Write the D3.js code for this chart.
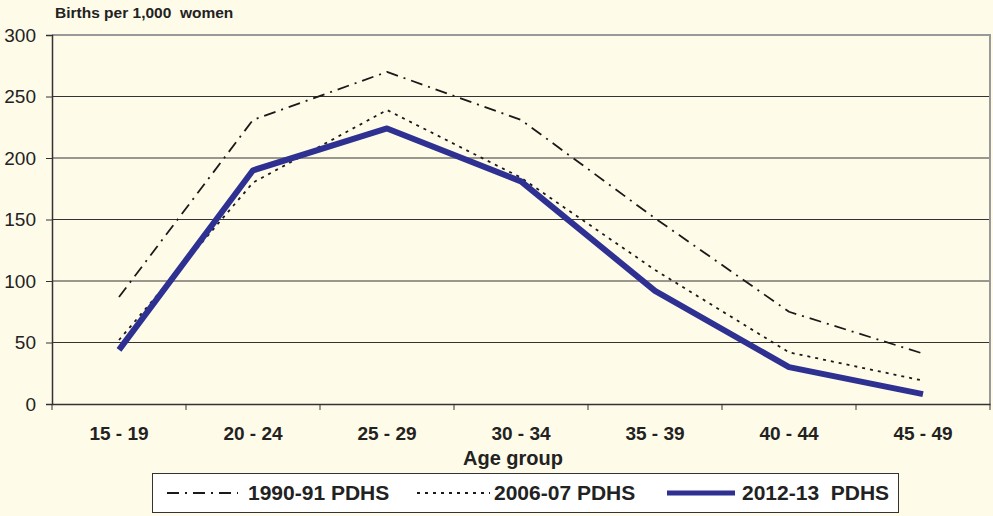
<!DOCTYPE html>
<html><head><meta charset="utf-8">
<script src="https://cdn.jsdelivr.net/npm/d3@7"></script>
<style>
html,body{margin:0;padding:0;background:#fffbe9;}
svg{display:block;font-family:"Liberation Sans",Arial,sans-serif;}
</style></head>
<body><svg id="c" width="993" height="516"></svg>
<script>
const categories = ["15 - 19","20 - 24","25 - 29","30 - 34","35 - 39","40 - 44","45 - 49"];
const s1990 = [87, 231, 270, 231, 151, 75, 41];
const s2006 = [52, 180, 239, 184, 109, 42, 19];
const s2012 = [44, 190, 224, 181, 92, 30, 8];
const yTicks = [0, 50, 100, 150, 200, 250, 300];
const seriesNames = ["1990-91 PDHS", "2006-07 PDHS", "2012-13  PDHS"];

const svg = d3.select("#c");
const L = 52, R = 990, T = 35, B = 404;
const x = d3.scaleBand().domain(categories).range([L, R]);
const y = d3.scaleLinear().domain([0, 300]).range([B, T]);

// gridlines
svg.append("g").selectAll("line").data(yTicks.filter(d => d > 0 && d < 300)).join("line")
  .attr("x1", L).attr("x2", R).attr("y1", d => y(d)).attr("y2", d => y(d))
  .attr("stroke", "#333").attr("stroke-width", 1);
// frame top/right
svg.append("line").attr("x1", L).attr("x2", R).attr("y1", y(300)).attr("y2", y(300)).attr("stroke", "#999").attr("stroke-width", 2);
svg.append("line").attr("x1", R).attr("x2", R).attr("y1", T - 1).attr("y2", B).attr("stroke", "#999").attr("stroke-width", 2);

// y axis
const yAxis = svg.append("g").attr("transform", `translate(${L},0)`)
  .call(d3.axisLeft(y).tickValues(yTicks).tickSize(6).tickPadding(10));
yAxis.select(".domain").attr("stroke", "#333").attr("stroke-width", 1.5);
yAxis.selectAll(".tick line").attr("stroke", "#333");
yAxis.selectAll("text").attr("font-size", 19).attr("fill", "#222").attr("font-family", "Liberation Sans, Arial, sans-serif");

// x axis
const xAxis = svg.append("g").attr("transform", `translate(0,${B})`)
  .call(d3.axisBottom(x).tickSize(0).tickPadding(23));
xAxis.select(".domain").attr("stroke", "#333").attr("stroke-width", 1.5);
xAxis.selectAll("text").attr("font-size", 19).attr("font-weight", "bold").attr("fill", "#222").attr("font-family", "Liberation Sans, Arial, sans-serif");
// boundary ticks
const bounds = categories.map(c => x(c)).concat([R]);
svg.append("g").selectAll("line").data(bounds).join("line")
  .attr("x1", d => d).attr("x2", d => d).attr("y1", B).attr("y2", B + 6)
  .attr("stroke", "#333").attr("stroke-width", 1);

// titles
svg.append("text").attr("x", 55).attr("y", 18).attr("font-size", 15.5).attr("font-weight", "bold").attr("fill", "#222")
  .attr("xml:space", "preserve").text("Births per 1,000  women");
svg.append("text").attr("x", 513).attr("y", 465).attr("text-anchor", "middle").attr("font-size", 20)
  .attr("font-weight", "bold").attr("fill", "#222").text("Age group");

const cx = c => x(c) + x.bandwidth() / 2;
const line = d3.line().x((d, i) => cx(categories[i])).y(d => y(d));

const styles = [
  {data: s1990, color: "#1a1a1a", width: 1.8, dash: "12,6,2,6"},
  {data: s2006, color: "#1a1a1a", width: 1.8, dash: "3,5"},
  {data: s2012, color: "#2e3192", width: 6, dash: null}
];
styles.forEach(s => {
  svg.append("path").datum(s.data).attr("d", line).attr("fill", "none")
    .attr("stroke", s.color).attr("stroke-width", s.width)
    .attr("stroke-dasharray", s.dash).attr("stroke-linejoin", "round");
});

// legend
svg.append("rect").attr("x", 152.5).attr("y", 473.5).attr("width", 746).attr("height", 39)
  .attr("fill", "#fff").attr("stroke", "#333").attr("stroke-width", 1);
const legX = [{x1: 167, x2: 238, tx: 248}, {x1: 417, x2: 490, tx: 494}, {x1: 667, x2: 735, tx: 742}];
styles.forEach((s, i) => {
  const g = svg.append("g");
  g.append("line").attr("x1", legX[i].x1).attr("x2", legX[i].x2).attr("y1", 493).attr("y2", 493)
    .attr("stroke", s.color).attr("stroke-width", i === 2 ? 5 : 1.8).attr("stroke-dasharray", s.dash);
  g.append("text").attr("x", legX[i].tx).attr("y", 500).attr("font-size", 21).attr("font-weight", "bold")
    .attr("fill", "#222").attr("xml:space", "preserve").text(seriesNames[i]);
});
</script></body></html>
